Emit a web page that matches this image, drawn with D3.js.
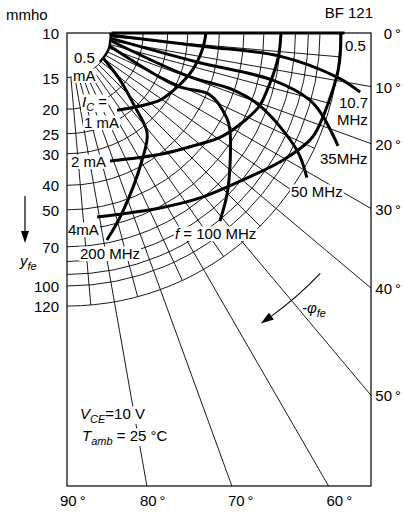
<!DOCTYPE html>
<html>
<head>
<meta charset="utf-8">
<title>BF 121 forward transfer admittance</title>
<script src="https://cdn.jsdelivr.net/npm/d3@7/dist/d3.min.js"></script>
<style>
  html, body { margin: 0; padding: 0; background: #fff; }
  svg { display: block; }
  text { font-family: "Liberation Sans", Arial, sans-serif; font-size: 15px; fill: #000; }
</style>
</head>
<body>
<svg id="chart" width="403" height="513"></svg>
<script>
// |y_fe| labels (mmho) along the 90° edge
const magLabels = [10, 15, 20, 25, 30, 40, 50, 70, 100, 120];
// constant-|y_fe| grid circles (mmho)
const magGrid = [15, 20, 25, 30, 40, 50, 60, 70, 80, 90, 100, 120];
// phase labels (degrees) on the right and bottom edges
const phaseRight = [0, 10, 20, 30, 40, 50];
const phaseBottom = [90, 80, 70, 60];
// fine 5° rays inside the grid and the long 10° rays beyond it
const phaseGrid = [5, 10, 15, 20, 25, 30, 35, 40, 45, 50, 55, 60, 65, 70, 75, 80, 85];
const phaseLong = [10, 20, 30, 40, 50, 60, 70, 80];

// constant collector current: [-phi_fe (deg), |y_fe| (mmho)], from 0.5 MHz upward
const ic05 = [[0,14.8],[3,14.9],[7,14.9],[10,14.9],[17,15],[26.6,15],[35,14.9],[41.3,14.9]];
const ic1  = [[0,35.4],[6.3,34.7],[16.9,32.8],[28.7,30.0],[35.8,28.4],[45,25.6],[57,23.1]];
const ic2  = [[0,70.1],[6.8,69.2],[17.4,66.1],[21.4,64.7],[33.4,54.8],[41.9,46.6],[51.9,40.5],[71.4,34.2]];
const ic4  = [[0,121],[8,120.7],[21.2,114.8],[23.8,112],[30.5,97.8],[38.9,81.9],[51.1,68.8],[62,60.7],[80.7,54.6]];

// constant frequency: [-phi_fe (deg), |y_fe| (mmho)], from IC = 0.5 mA upward
const f05  = [[0,15],[0,35.4],[0,70.1],[0,121],[0,125]];
const f10  = [[3,15],[5.6,35],[6.2,70.2],[9.3,120.6],[11.4,152]];
const f35  = [[7,15],[12.6,33.6],[12.9,67.8],[15.4,98.8],[17.8,114.5],[22.6,144.7]];
const f50  = [[10,15],[19.6,32.2],[18.9,49.4],[20.7,65.4],[27,104.7],[31.1,128]];
const f100 = [[17,15],[25.7,30.4],[23.4,41.3],[28,51.9],[30.8,56.2],[44.1,76.9],[50.9,90.8]];
const f200 = [[35,15],[41.6,19.1],[47.4,25],[51.3,32.1],[59.4,38.3],[73,55.5],[79.1,68.1]];

// direction arrow for increasing -phi_fe, drawn on a circle of this magnitude
const arrowMag = 240, arrowFrom = 43.5, arrowTo = 56.3;

const svg = d3.select('#chart');
const box = { left: 67, top: 33, right: 371, bottom: 486 };
const cx = box.left, cy = box.top;

// log radius, phase measured clockwise from the top edge
const rScale = d3.scaleLog().domain([10, 100]).range([0, 253]);
const aScale = d3.scaleLinear().domain([0, 90]).range([0, Math.PI / 2]);
const xy = (ph, m) => {
  const r = rScale(m), a = aScale(ph);
  return [cx + r * Math.cos(a), cy + r * Math.sin(a)];
};

svg.append('defs').append('clipPath').attr('id', 'plotClip').append('rect')
  .attr('x', box.left).attr('y', box.top)
  .attr('width', box.right - box.left).attr('height', box.bottom - box.top);

const gGrid = svg.append('g').attr('clip-path', 'url(#plotClip)')
  .attr('fill', 'none').attr('stroke', '#000').attr('stroke-width', 0.9);
const gMask = svg.append('g');
const gCurves = svg.append('g').attr('fill', 'none').attr('stroke', '#000')
  .attr('stroke-width', 3).attr('stroke-linejoin', 'round');
const gFrame = svg.append('g');
const gText = svg.append('g');

// grid circles
magGrid.forEach(v => {
  const r = rScale(v), p = d3.path();
  p.moveTo(cx + r, cy);
  p.arc(cx, cy, r, 0, Math.PI / 2);
  gGrid.append('path').attr('d', p.toString());
});

// rays
const ray = (ph, m0, m1) => {
  const [x0, y0] = xy(ph, m0), [x1, y1] = xy(ph, m1);
  return `M${x0},${y0}L${x1},${y1}`;
};
const mInner = magGrid[0], mOuter = magGrid[magGrid.length - 1];
phaseGrid.forEach(ph => gGrid.append('path').attr('d', ray(ph, mInner, mOuter)));
phaseLong.forEach(ph => gGrid.append('path').attr('d', ray(ph, mOuter, 1e4)));

// -phi_fe arrow
{
  const ra = rScale(arrowMag);
  const headLen = 13, headHalf = 4.2;
  const tipA = aScale(arrowTo), baseA = tipA - headLen / ra;
  const p = d3.path();
  const [sx, sy] = xy(arrowFrom, arrowMag);
  p.moveTo(sx, sy);
  p.arc(cx, cy, ra, aScale(arrowFrom), baseA);
  svg.append('path').attr('d', p.toString()).attr('fill', 'none')
    .attr('stroke', '#000').attr('stroke-width', 1.1);
  const tip = [cx + ra * Math.cos(tipA), cy + ra * Math.sin(tipA)];
  const bc = [cx + ra * Math.cos(baseA), cy + ra * Math.sin(baseA)];
  const n = [Math.cos(baseA), Math.sin(baseA)];
  svg.append('path').attr('fill', '#000').attr('d',
    `M${tip[0]},${tip[1]}L${bc[0] + n[0] * headHalf},${bc[1] + n[1] * headHalf}` +
    `L${bc[0] - n[0] * headHalf},${bc[1] - n[1] * headHalf}Z`);
}

// characteristic curves
const line = d3.line()
  .x(d => xy(d[0], d[1])[0])
  .y(d => xy(d[0], d[1])[1])
  .curve(d3.curveCatmullRom.alpha(0.5));
gCurves.append('path').attr('d', line(ic05)).attr('stroke-width', 2.4);
[ic1, ic2, ic4, f05, f10, f35, f50, f100, f200].forEach(c =>
  gCurves.append('path').attr('d', line(c)));

// frame
gFrame.append('rect')
  .attr('x', box.left).attr('y', box.top)
  .attr('width', box.right - box.left).attr('height', box.bottom - box.top)
  .attr('fill', 'none').attr('stroke', '#000').attr('stroke-width', 1.2);

// text helper: parts are strings or {t, it, sub}
function addText(x, y, parts, anchor = 'start', mask = false) {
  const t = gText.append('text').attr('x', x).attr('y', y).attr('text-anchor', anchor);
  let shift = 0;
  parts.forEach(p => {
    if (typeof p === 'string') p = { t: p };
    const s = t.append('tspan').text(p.t);
    const want = p.sub ? 4 : 0;
    if (want !== shift) { s.attr('dy', want - shift); shift = want; }
    if (p.sub) s.attr('font-size', 11);
    if (p.it) s.attr('font-style', 'italic');
  });
  if (mask) {
    const b = t.node().getBBox();
    gMask.append('rect').attr('x', b.x - 1).attr('y', b.y + 1.5)
      .attr('width', b.width + 2).attr('height', b.height - 2.5).attr('fill', '#fff');
  }
  return t;
}

// axes labels
addText(6, 20, ['mmho']);
addText(373, 18, ['BF 121'], 'end');
magLabels.forEach(v => addText(59, cy + rScale(v) + 6, [String(v)], 'end'));
phaseRight.forEach(v => {
  const y = cy + (box.right - cx) * Math.tan(aScale(v));
  addText(401, y + 6, [`${v}\u2009°`], 'end');
});
const bottomNudge = [-7, -7, -4, -2];
phaseBottom.forEach((v, i) => {
  const x = v === 90 ? cx : cx + (box.bottom - cy) / Math.tan(aScale(v));
  addText(x + bottomNudge[i], 506, [`${v}\u2009°`]);
});

// curve labels
addText(345, 51, ['0.5'], 'start', true);
addText(339, 108, ['10.7'], 'start', true);
addText(337, 125, ['MHz'], 'start', true);
addText(320, 164, ['35MHz'], 'start', true);
addText(291, 197, ['50 MHz'], 'start', true);
addText(175, 239, [{ t: 'f', it: true }, ' = 100 MHz'], 'start', true);
addText(80, 259, ['200 MHz'], 'start', true);
addText(74, 63, ['0.5'], 'start', true);
addText(73, 81, ['mA'], 'start', true);
addText(82, 107, [{ t: 'I', it: true }, { t: 'C', it: true, sub: true }, ' ='], 'start', true);
addText(84, 128, ['1 mA'], 'start', true);
addText(71, 167, ['2 mA'], 'start', true);
addText(68, 235, ['4mA'], 'start', true);
addText(80, 419, [{ t: 'V', it: true }, { t: 'CE', it: true, sub: true }, '=10 V'], 'start', true);
addText(82, 441, [{ t: 'T', it: true }, { t: 'amb', it: true, sub: true }, ' = 25 °C'], 'start', true);
addText(302, 313, [{ t: '-φ', it: true }, { t: 'fe', it: true, sub: true }]);

// y_fe axis arrow and name
{
  const ax = 25, y0 = 196, tipY = 243, head = 12, half = 4;
  svg.append('line').attr('x1', ax).attr('x2', ax).attr('y1', y0).attr('y2', tipY - head)
    .attr('stroke', '#000').attr('stroke-width', 1.2);
  svg.append('path').attr('fill', '#000')
    .attr('d', `M${ax},${tipY}L${ax - half},${tipY - head}L${ax + half},${tipY - head}Z`);
  addText(20, 266, [{ t: 'y', it: true }, { t: 'fe', it: true, sub: true }]);
}
</script>
</body>
</html>
